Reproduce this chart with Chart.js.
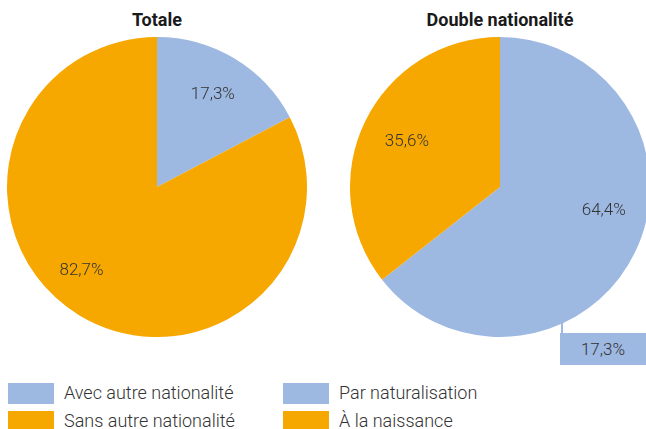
<!DOCTYPE html>
<html><head><meta charset="utf-8">
<script src="https://cdn.jsdelivr.net/npm/chart.js@4/dist/chart.umd.min.js"></script>
<style>
html,body{margin:0;padding:0;background:#fff;}
body{width:646px;height:429px;overflow:hidden;position:relative;font-family:Roboto,"Noto Sans",sans-serif;color:#333;}
.title{position:absolute;top:9px;line-height:21px;font-weight:bold;font-size:18px;color:#1a1a1a;text-align:center;width:300px;}
.cv{position:absolute;top:37px;}
.leg{position:absolute;font-size:18px;font-weight:300;color:#333;white-space:nowrap;}
.sw{position:absolute;width:46px;height:21px;}
.lt{position:absolute;line-height:21px;}
#callout{position:absolute;left:560px;top:333px;width:86px;height:32px;line-height:32px;text-align:center;font-size:17px;font-weight:300;color:#333;}
#leader{position:absolute;left:561px;top:322px;width:2px;height:11px;}
</style></head>
<body>
<div class="title" id="t0" style="left:7px"></div>
<div class="title" id="t1" style="left:350px"></div>
<canvas id="c0" class="cv" width="300" height="300" style="left:7px"></canvas>
<canvas id="c1" class="cv" width="300" height="300" style="left:350px"></canvas>
<div id="leader"></div>
<div id="callout"></div>
<div id="legend"></div>
<script>
const titles = ['Totale', 'Double nationalité'];
const totalLabels = ['Avec autre nationalité', 'Sans autre nationalité'];
const totalValues = [17.3, 82.7];
const doubleLabels = ['Par naturalisation', 'À la naissance'];
const doubleValues = [64.4, 35.6];
const calloutValue = 17.3;
const colors = ['#9DB8E1', '#F6A800'];

const fmt = v => v.toFixed(1).replace('.', ',') + '%';

const labelPlugin = {
  id: 'sliceLabels',
  afterDatasetsDraw(chart, args, opts) {
    const ctx = chart.ctx;
    const meta = chart.getDatasetMeta(0);
    const ds = chart.data.datasets[0];
    const shifts = opts.shifts || [];
    const factors = opts.factors || [];
    ctx.save();
    ctx.font = '300 17px Roboto, "Noto Sans", sans-serif';
    ctx.fillStyle = '#333';
    ctx.textAlign = 'center';
    ctx.textBaseline = 'middle';
    meta.data.forEach((arc, i) => {
      const p = arc.getProps(['x','y','startAngle','endAngle','outerRadius'], true);
      const mid = (p.startAngle + p.endAngle) / 2 + (shifts[i] || 0) * Math.PI / 180;
      const r = p.outerRadius * (factors[i] || 0.71);
      ctx.fillText(fmt(ds.data[i]), p.x + Math.cos(mid) * r, p.y + Math.sin(mid) * r);
    });
    ctx.restore();
  }
};

function makePie(id, labels, values, labelOpts) {
  return new Chart(document.getElementById(id), {
    type: 'pie',
    data: { labels, datasets: [{ data: values, backgroundColor: colors, borderWidth: 0 }] },
    options: {
      responsive: false, animation: false,
      layout: { padding: 0 },
      plugins: { legend: { display: false }, tooltip: { enabled: false }, sliceLabels: labelOpts }
    },
    plugins: [labelPlugin]
  });
}
makePie('c0', totalLabels, totalValues, { shifts: [0, 11], factors: [0.72, 0.75] });
makePie('c1', doubleLabels, doubleValues, { shifts: [-13, 0], factors: [0.71, 0.69] });

document.getElementById('t0').textContent = titles[0];
document.getElementById('t1').textContent = titles[1];
const co = document.getElementById('callout');
co.textContent = fmt(calloutValue);
co.style.background = colors[0];
document.getElementById('leader').style.background = colors[0];

const leg = document.getElementById('legend');
function addLeg(x, y, color, text) {
  const s = document.createElement('div');
  s.className = 'sw'; s.style.left = x + 'px'; s.style.top = y + 'px'; s.style.background = color;
  const t = document.createElement('div');
  t.className = 'leg lt'; t.style.left = (x + 56) + 'px'; t.style.top = (y - 1) + 'px'; t.textContent = text;
  leg.appendChild(s); leg.appendChild(t);
}
totalLabels.forEach((l, i) => addLeg(8, 383 + i * 28, colors[i], l));
doubleLabels.forEach((l, i) => addLeg(283, 383 + i * 28, colors[i], l));
</script>
</body></html>
